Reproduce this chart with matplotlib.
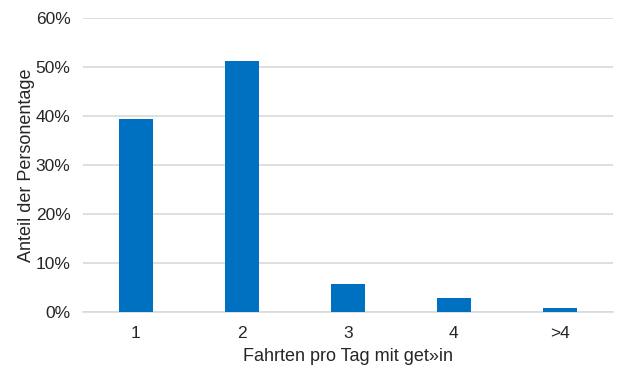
import matplotlib.pyplot as plt
from matplotlib.ticker import PercentFormatter

plt.rcParams['font.family'] = ['Liberation Sans', 'DejaVu Sans']

categories = ['1', '2', '3', '4', '>4']
shares = [39.4, 51.2, 5.65, 2.9, 0.8]   # percent of person-days

fig = plt.figure(figsize=(6.24, 3.67), dpi=100)
ax = fig.add_axes([0.133, 0.150, 0.849, 0.801])

x = range(len(categories))
ax.bar(x, shares, width=0.32, color='#0070C0', zorder=3)

ax.set_xlim(-0.5, len(categories) - 0.5)
ax.set_ylim(0, 60)
ax.set_yticks(range(0, 61, 10))
ax.yaxis.set_major_formatter(PercentFormatter(decimals=0))
ax.set_xticks(list(x))
ax.set_xticklabels(categories)

ax.grid(axis='y', color='#D9D9D9', linewidth=1.2, zorder=0)
for side in ['top', 'right', 'left']:
    ax.spines[side].set_visible(False)
ax.spines['bottom'].set_color('#D9D9D9')
ax.spines['bottom'].set_linewidth(1.2)
ax.tick_params(axis='both', length=0, labelsize=12.5, colors='#262626')
ax.tick_params(axis='x', pad=10)
ax.tick_params(axis='y', pad=9)

ax.set_xlabel('Fahrten pro Tag mit get»in', fontsize=13, color='#262626', labelpad=5.5)
ax.set_ylabel('Anteil der Personentage', fontsize=13, color='#262626', labelpad=0.5)

fig.savefig('out.png', dpi=100)
